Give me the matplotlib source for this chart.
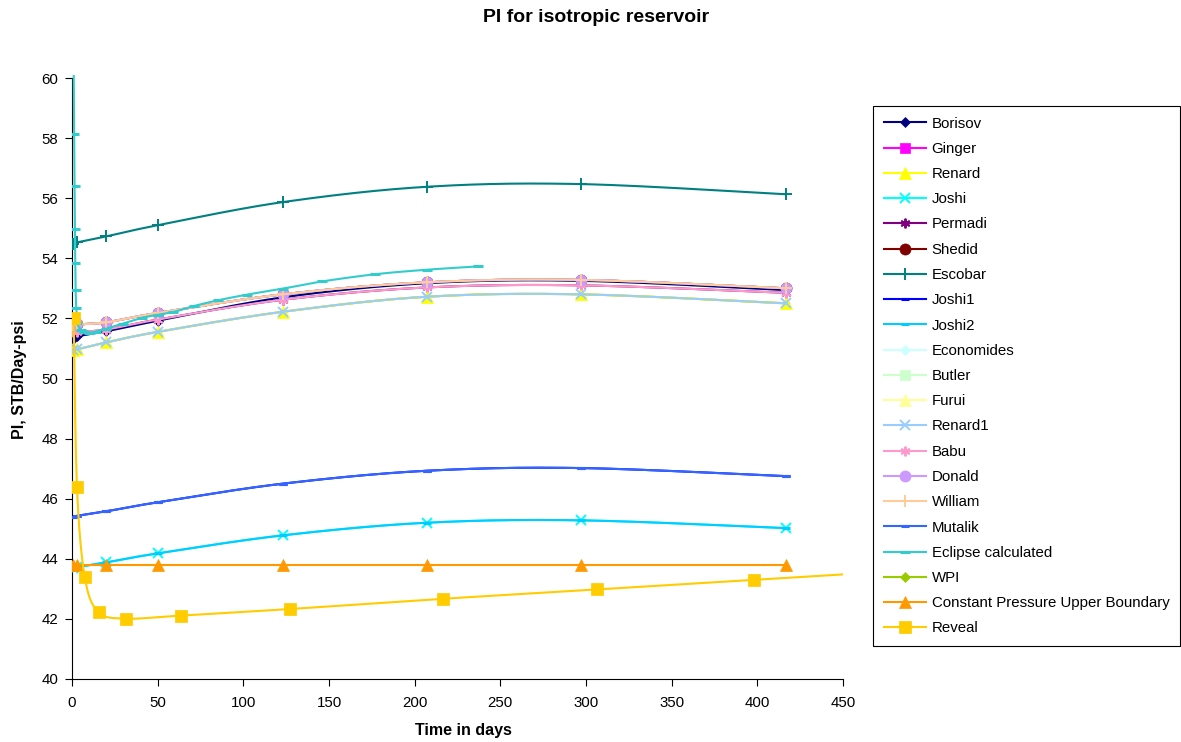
import numpy as np
import matplotlib
matplotlib.use("Agg")
import matplotlib.pyplot as plt
from matplotlib.lines import Line2D

plt.rcParams['font.family'] = ['Liberation Sans', 'DejaVu Sans']

# ---- data -------------------------------------------------------------
t_model = [0.5, 3, 20, 50, 123, 207, 297, 417]

borisov = [51.30, 51.40, 51.57, 51.92, 52.70, 53.17, 53.25, 52.94]
renard = [50.95, 50.97, 51.20, 51.55, 52.22, 52.72, 52.80, 52.50]
joshi = [43.68, 43.72, 43.88, 44.18, 44.78, 45.20, 45.28, 45.02]
babu = [51.54, 51.55, 51.63, 51.96, 52.62, 53.03, 53.10, 52.85]
donald = [51.78, 51.80, 51.87, 52.18, 52.80, 53.20, 53.28, 53.00]
escobar = [54.48, 54.53, 54.73, 55.10, 55.87, 56.38, 56.47, 56.13]
mutalik = [45.40, 45.43, 45.58, 45.88, 46.50, 46.93, 47.02, 46.75]
const_p = [43.80, 43.80, 43.80, 43.80, 43.80, 43.80, 43.80, 43.80]

ginger = donald
shedid = donald
permadi = babu
economides = borisov
butler = donald
furui = renard
renard1 = renard
william = donald
joshi1 = mutalik
joshi2 = joshi
wpi = renard

t_eclipse = [1.0, 1.3, 1.5, 1.7, 1.9, 2.1, 2.5, 3.2, 5, 7, 10, 14, 20, 30,
             41, 50, 59, 71, 85, 102, 123, 146, 177, 207, 237]
eclipse = [60.10, 58.13, 56.40, 54.97, 53.84, 52.96, 52.36, 51.85, 51.62,
           51.55, 51.52, 51.56, 51.66, 51.83, 52.02, 52.12, 52.21, 52.41,
           52.60, 52.79, 52.99, 53.23, 53.47, 53.62, 53.73]

t_reveal = [1, 2.9, 7.5, 15.5, 31.5, 63.5, 127.5, 216.5, 306.5, 398, 490]
reveal = [52.00, 46.40, 43.38, 42.23, 42.01, 42.11, 42.33, 42.67, 42.98,
          43.30, 43.62]

# (label, times, values, colour, marker, marker size, hidden-underneath)
series = [
    ("Borisov", t_model, borisov, "#000080", "D", 5, False),
    ("Ginger", t_model, ginger, "#FF00FF", "s", 7, True),
    ("Renard", t_model, renard, "#FFFF00", "^", 8, False),
    ("Joshi", t_model, joshi, "#00FFFF", "x", 7, False),
    ("Permadi", t_model, permadi, "#800080", (6, 2, 0), 7, True),
    ("Shedid", t_model, shedid, "#800000", "o", 8, True),
    ("Escobar", t_model, escobar, "#008080", "+", 9, False),
    ("Joshi1", t_model, joshi1, "#0000FF", "_", 6, True),
    ("Joshi2", t_model, joshi2, "#00CCFF", "_", 6, False),
    ("Economides", t_model, economides, "#CCFFFF", "D", 5, True),
    ("Butler", t_model, butler, "#CCFFCC", "s", 7, True),
    ("Furui", t_model, furui, "#FFFF99", "^", 8, True),
    ("Renard1", t_model, renard1, "#99CCFF", "x", 7, False),
    ("Babu", t_model, babu, "#FF99CC", (6, 2, 0), 7, False),
    ("Donald", t_model, donald, "#CC99FF", "o", 8, False),
    ("William", t_model, william, "#FFCC99", "+", 8, False),
    ("Mutalik", t_model, mutalik, "#3366FF", "_", 6, False),
    ("Eclipse calculated", t_eclipse, eclipse, "#33CCCC", "_", 7, False),
    ("WPI", t_model, wpi, "#99CC00", "D", 5, True),
    ("Constant Pressure Upper Boundary", t_model, const_p, "#FF9900", "^", 8, False),
    ("Reveal", t_reveal, reveal, "#FFCC00", "s", 8, False),
]

# ---- figure -----------------------------------------------------------
W, H = 1181, 742
fig = plt.figure(figsize=(W / 100, H / 100), dpi=100)
x0, x1, y0, y1 = 72, 843, 78, 679
ax = fig.add_axes([x0 / W, 1 - y1 / H, (x1 - x0) / W, (y1 - y0) / H])
ax.set_xlim(0, 450)
ax.set_ylim(40, 60)

SX = (x1 - x0) / 450.0
SY = (y1 - y0) / 20.0


def smooth(xs, ys, n=40):
    """Bezier smoothing of a polyline in screen space (Catmull-Rom style)."""
    P = np.column_stack([np.asarray(xs, float) * SX, np.asarray(ys, float) * SY])
    out = []
    t = np.linspace(0, 1, n)[:, None]
    for i in range(len(P) - 1):
        p0 = P[i - 1] if i > 0 else P[i]
        p1, p2 = P[i], P[i + 1]
        p3 = P[i + 2] if i + 2 < len(P) else P[i + 1]
        c1 = p1 + (p2 - p0) / 6.0
        c2 = p2 - (p3 - p1) / 6.0
        seg = ((1 - t) ** 3) * p1 + 3 * ((1 - t) ** 2) * t * c1 \
            + 3 * (1 - t) * t ** 2 * c2 + t ** 3 * p2
        out.append(seg if i == 0 else seg[1:])
    out = np.vstack(out)
    return out[:, 0] / SX, out[:, 1] / SY


def mstyle(marker, color, ms):
    kw = dict(marker=marker, markersize=ms)
    if marker in ("x", "+", "_", (6, 2, 0)):
        kw.update(markeredgewidth=2.2 if marker == "_" else 1.4,
                  markeredgecolor=color)
    else:
        kw.update(markerfacecolor=color, markeredgecolor=color,
                  markeredgewidth=0.5)
    return kw


handles = []
for k, (label, tx, vy, col, mk, ms, hidden) in enumerate(series):
    z = 2 + k * 0.01 if hidden else 3 + k * 0.01
    sx, sy = smooth(tx, vy)
    line_clip = label != "Eclipse calculated"
    ax.plot(sx, sy, color=col, lw=1.5, zorder=z, clip_on=line_clip,
            solid_capstyle="butt")
    msz = ms * 0.7 if (hidden and mk in ("s", "D")) else ms
    ax.plot(tx, vy, linestyle="none", color=col, zorder=z + 0.005,
            clip_on=True, **mstyle(mk, col, msz))
    handles.append(Line2D([], [], color=col, lw=1.5, label=label,
                          **mstyle(mk, col, ms)))

# ---- axes styling -----------------------------------------------------
for s in ("top", "right"):
    ax.spines[s].set_visible(False)
for s in ("left", "bottom"):
    ax.spines[s].set_color("#000000")
    ax.spines[s].set_linewidth(0.8)
ax.set_xticks(np.arange(0, 451, 50))
ax.set_yticks(np.arange(40, 61, 2))
ax.tick_params(axis="both", direction="out", length=5, width=0.8,
               labelsize=10.8, colors="#000000")
ax.tick_params(axis="x", pad=7)
ax.tick_params(axis="y", pad=5)

fig.text(596 / W, 1 - 17 / H, "PI for isotropic reservoir", ha="center",
         va="center", fontsize=14, fontweight="bold")
fig.text(463 / W, 1 - 730 / H, "Time in days", ha="center", va="center",
         fontsize=11.5, fontweight="bold")
fig.text(20 / W, 1 - 380 / H, "PI, STB/Day-psi", ha="center", va="center",
         rotation=90, fontsize=11.5, fontweight="bold")

leg = fig.legend(handles=handles, loc="upper left",
                 bbox_to_anchor=(873 / W, 1 - 106 / H), fontsize=10.8,
                 frameon=True, fancybox=False, shadow=False, framealpha=1,
                 edgecolor="#000000", handlelength=2.8, handletextpad=0.4,
                 labelspacing=0.75, borderpad=0.7, borderaxespad=0)
leg.get_frame().set_linewidth(0.8)

fig.savefig("out.png", dpi=100)
